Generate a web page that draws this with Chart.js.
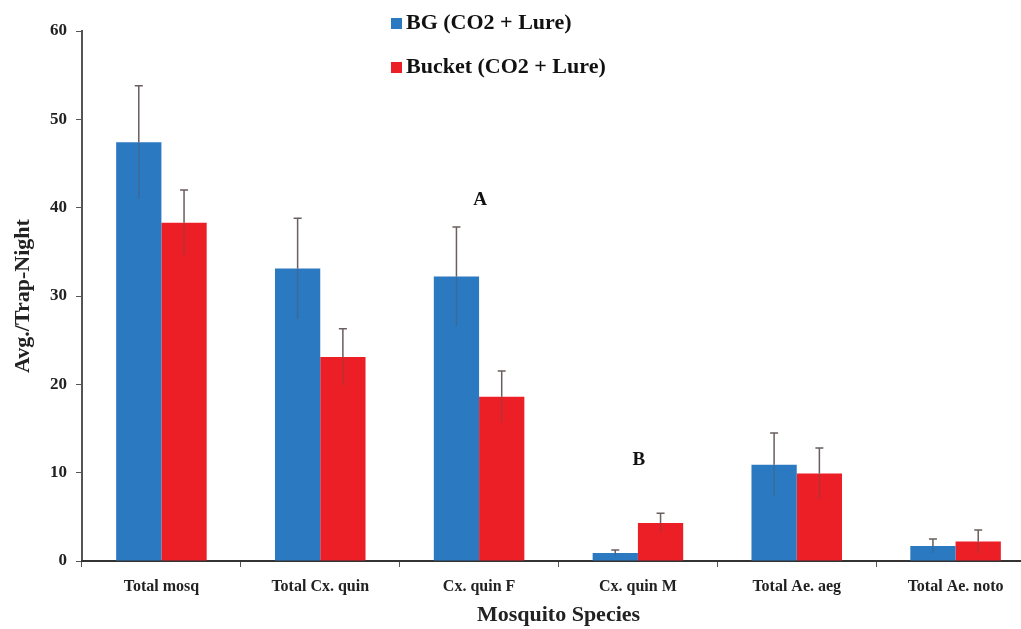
<!DOCTYPE html>
<html>
<head>
<meta charset="utf-8">
<script src="https://cdn.jsdelivr.net/npm/chart.js@4.4.1/dist/chart.umd.min.js"></script>
<style>
  html, body { margin: 0; padding: 0; background: #fff; overflow: hidden; }
  #wrap { position: relative; width: 1035px; height: 629px; }
</style>
</head>
<body>
<div id="wrap"><canvas id="myChart"></canvas></div>
<script>
var species = ["Total mosq", "Total Cx. quin", "Cx. quin F", "Cx. quin M", "Total Ae. aeg", "Total Ae. noto"];
var bgValues = [47.4, 33.1, 32.2, 0.9, 10.9, 1.7];
var bgErrors = [6.4, 5.7, 5.6, 0.35, 3.6, 0.8];
var bucketValues = [38.3, 23.1, 18.6, 4.3, 9.9, 2.2];
var bucketErrors = [3.7, 3.2, 2.9, 1.1, 2.9, 1.3];
var letters = [{ cat: "Cx. quin F", text: "A", y: 40.9 }, { cat: "Cx. quin M", text: "B", y: 11.4 }];

var serif = "'Liberation Serif', 'Times New Roman', serif";

// whiskers: top half dark with a cap, lower half faint over the bar
var errorBars = {
  id: "errorBars",
  afterDatasetsDraw: function (chart) {
    var ctx = chart.ctx;
    var y = chart.scales.y;
    chart.data.datasets.forEach(function (ds, i) {
      chart.getDatasetMeta(i).data.forEach(function (bar, j) {
        var v = ds.data[j], e = ds.errors[j];
        var top = y.getPixelForValue(v + e);
        var bot = y.getPixelForValue(Math.max(v - e, 0));
        ctx.save();
        ctx.lineWidth = 1.5;
        ctx.strokeStyle = "rgba(90,80,80,0.35)";
        ctx.beginPath();
        ctx.moveTo(bar.x, bar.y);
        ctx.lineTo(bar.x, bot);
        ctx.stroke();
        ctx.strokeStyle = "#6a5e5e";
        ctx.beginPath();
        ctx.moveTo(bar.x, bar.y);
        ctx.lineTo(bar.x, top);
        ctx.moveTo(bar.x - 4, top);
        ctx.lineTo(bar.x + 4, top);
        ctx.stroke();
        ctx.restore();
      });
    });
  }
};

// stacked legend and the A / B letters
var extras = {
  id: "extras",
  afterDraw: function (chart) {
    var ctx = chart.ctx;
    ctx.save();
    ctx.font = "bold 22px " + serif;
    ctx.textBaseline = "middle";
    chart.data.datasets.forEach(function (ds, i) {
      var ly = 23 + i * 44;
      ctx.fillStyle = ds.backgroundColor;
      ctx.fillRect(391, ly - 5, 11, 11);
      ctx.fillStyle = "#111";
      ctx.textAlign = "left";
      ctx.fillText(ds.label, 406, ly);
    });
    ctx.font = "bold 19px " + serif;
    ctx.textAlign = "center";
    letters.forEach(function (l) {
      var px = chart.scales.x.getPixelForValue(species.indexOf(l.cat));
      ctx.fillText(l.text, px + 1, chart.scales.y.getPixelForValue(l.y));
    });
    ctx.restore();
  }
};

new Chart("myChart", {
  type: "bar",
  data: {
    labels: species,
    datasets: [
      {
        label: "BG (CO2 + Lure)",
        data: bgValues,
        errors: bgErrors,
        backgroundColor: "#2b79c0",
        categoryPercentage: 0.57,
        barPercentage: 1.0
      },
      {
        label: "Bucket (CO2 + Lure)",
        data: bucketValues,
        errors: bucketErrors,
        backgroundColor: "#ec1f26",
        categoryPercentage: 0.57,
        barPercentage: 1.0
      }
    ]
  },
  options: {
    responsive: true,
    maintainAspectRatio: false,
    animation: false,
    layout: { padding: { top: 31, left: 0, right: 0, bottom: 0 } },
    plugins: {
      legend: { display: false },
      tooltip: { enabled: false }
    },
    scales: {
      y: {
        min: 0,
        max: 60,
        ticks: {
          stepSize: 10,
          color: "#222",
          padding: 9,
          font: { family: serif, size: 17, weight: "bold" }
        },
        grid: { drawOnChartArea: false, drawTicks: true, tickLength: 6, color: "#555" },
        border: { color: "#555", width: 2 },
        title: {
          display: true,
          text: "Avg./Trap-Night",
          color: "#222",
          font: { family: serif, size: 22, weight: "bold" },
          padding: { top: 10, bottom: 0 }
        },
        afterFit: function (scale) { scale.width = 82; }
      },
      x: {
        ticks: {
          color: "#222",
          padding: 10,
          font: { family: serif, size: 16, weight: "bold" }
        },
        grid: { drawOnChartArea: false, drawTicks: true, tickLength: 6, color: "#555", offset: true },
        border: { color: "#333", width: 2 },
        title: {
          display: true,
          text: "Mosquito Species",
          color: "#222",
          font: { family: serif, size: 22, weight: "bold" },
          padding: { top: 0, bottom: 0 }
        },
        afterFit: function (scale) { scale.height = 68; }
      }
    }
  },
  plugins: [errorBars, extras]
});
</script>
</body>
</html>
